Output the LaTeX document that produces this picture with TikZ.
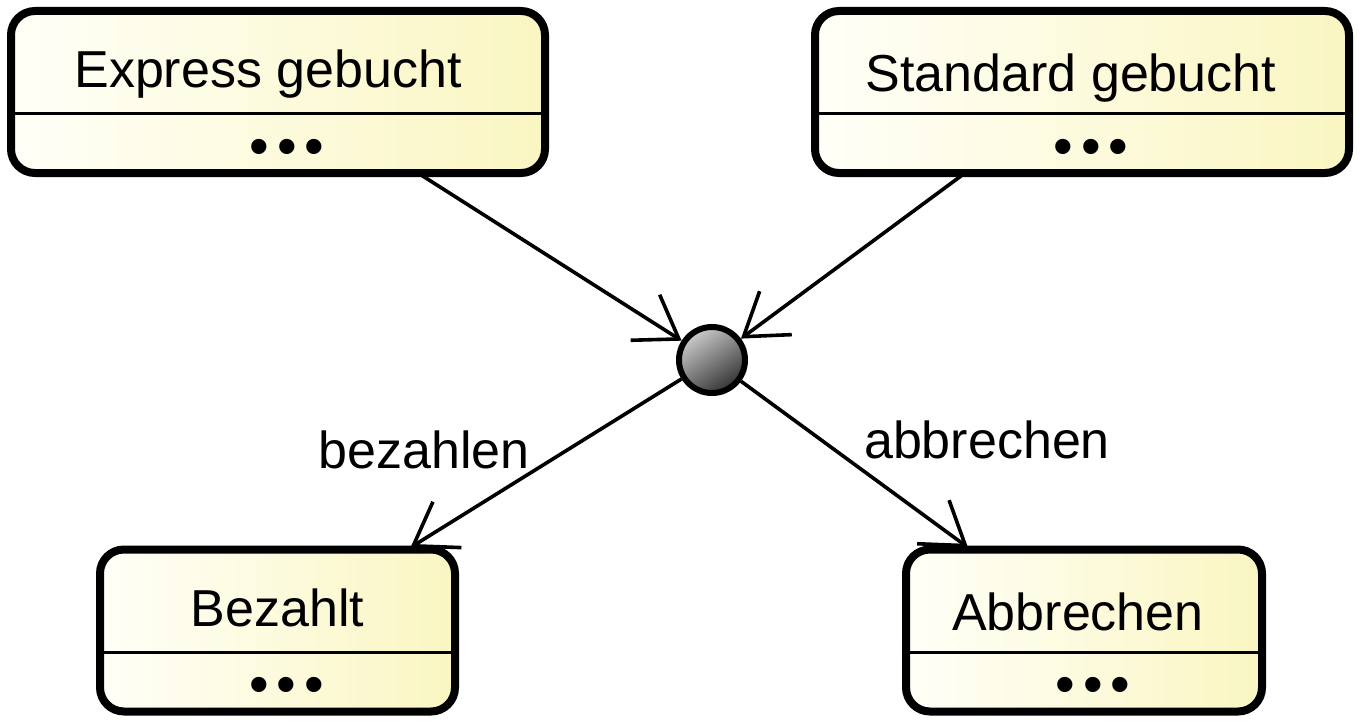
\documentclass[tikz,border=0pt]{standalone}
\usepackage{fontspec}
\setmainfont{Liberation Sans}
\usetikzlibrary{arrows.meta,calc}
\definecolor{gelbL}{HTML}{FFFFF8}
\definecolor{gelbR}{HTML}{FAF6C2}
\begin{document}
\begin{tikzpicture}[x=0.5pt,y=-0.5pt,
    zustand/.style={draw,line width=4pt,outer sep=0pt,rounded corners=12pt,left color=gelbL,right color=gelbR,minimum height=81pt},
    titel/.style={font=\fontsize{26}{30}\selectfont,inner sep=0pt,anchor=base},
    punkte/.style={font=\fontsize{28}{28}\selectfont,inner sep=0pt},
    trenn/.style={line width=1.5pt},
    pfeil/.style={line width=1.8pt,-{Straight Barb[length=20pt,width=27pt,line width=1.8pt]}}]
\useasboundingbox (0,0) rectangle (1360,722);
% Zustaende
\foreach \n/\x/\y/\w/\dx/\dy/\t in {exp/278/92/267/-10/0/Express gebucht,std/1082/92/267/-11/4/Standard gebucht,bez/277.5/630.5/177.5/0/0/Bezahlt,abb/1084/630.5/178/-6/4/Abbrechen}{
    \node[zustand,minimum width=\w pt] (\n) at (\x,\y) {};
    \draw[trenn] ($(\n.north west)+(0,103)$) -- ($(\n.north east)+(0,103)$);
    \node[titel] (\n-t) at ($(\n.north)+(\dx,77+\dy)$) {\t};
    \node[punkte] (\n-p) at ($(\n.north)+(9,141)$) {•\kern4pt•\kern4pt•};
}
% Knoten
\node[draw,circle,line width=3pt,minimum size=33pt,shading=axis,top color=black!20,bottom color=black!80,shading angle=35] (j) at (712,360) {};
\draw[pfeil] ($(exp.south)+(140,0)$) -- (j);
\draw[pfeil] ($(std.south)+(-117,0)$) -- (j);
\draw[pfeil] (j) -- ($(bez.north)+(133,-2)$);
\draw[pfeil] (j) -- ($(abb.north)+(-116,-2)$);
\node[titel] (l1) at (424,468) {bezahlen};
\node[titel] (l2) at (987,458) {abbrechen};
\end{tikzpicture}
\end{document}
